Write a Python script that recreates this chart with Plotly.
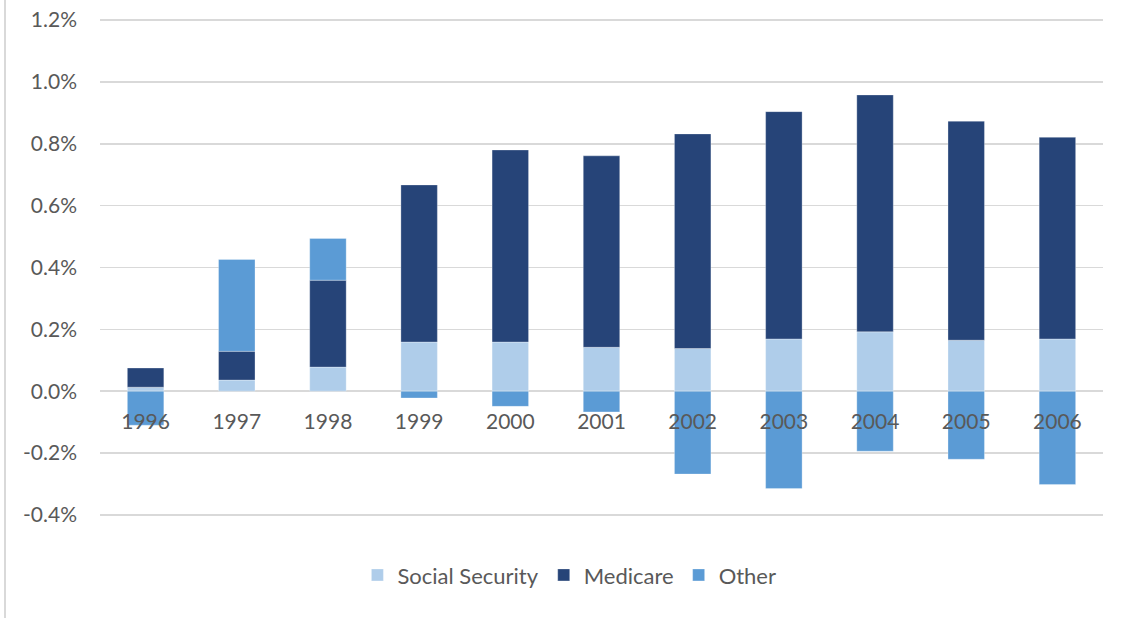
import plotly.graph_objects as go

years = ["1996", "1997", "1998", "1999", "2000", "2001", "2002", "2003", "2004", "2005", "2006"]
social_security = [0.013, 0.036, 0.078, 0.159, 0.159, 0.142, 0.138, 0.169, 0.192, 0.165, 0.169]
medicare = [0.062, 0.093, 0.281, 0.508, 0.621, 0.619, 0.694, 0.735, 0.766, 0.708, 0.652]
other = [-0.110, 0.297, 0.135, -0.022, -0.049, -0.067, -0.268, -0.315, -0.194, -0.220, -0.302]

tick_vals = [-0.4, -0.2, 0.0, 0.2, 0.4, 0.6, 0.8, 1.0, 1.2]
tick_text = ["-0.4%", "-0.2%", "0.0%", "0.2%", "0.4%", "0.6%", "0.8%", "1.0%", "1.2%"]

FONT = "Lato"
TXT = "#595959"
GRID = "#D9D9D9"

fig = go.Figure()
for name, vals, col in [
    ("Social Security", social_security, "#AFCDEA"),
    ("Medicare", medicare, "#264478"),
    ("Other", other, "#5B9BD5"),
]:
    fig.add_trace(go.Bar(
        x=years, y=vals, name=name,
        marker=dict(color=col, line=dict(color="rgba(255,255,255,0.5)", width=0.6)),
        hoverinfo="skip",
    ))

y_lo, y_hi = -0.41, 1.21

fig.update_layout(
    width=1127, height=618,
    barmode="relative",
    bargap=0.6,
    plot_bgcolor="white", paper_bgcolor="white",
    margin=dict(l=100, r=24, t=17, b=100, autoexpand=False),
    font=dict(family=FONT, color=TXT, size=21),
    showlegend=True,
    legend=dict(
        orientation="h", xanchor="center", x=0.468, yanchor="middle", y=-0.114,
        font=dict(size=22, color=TXT, family=FONT), traceorder="normal",
        itemwidth=30,
    ),
    xaxis=dict(
        type="category", anchor="free", position=(0 - y_lo) / (y_hi - y_lo),
        showline=False, showgrid=False, ticks="", automargin=False,
        ticklabelstandoff=16,
        tickfont=dict(size=21, color=TXT, family=FONT),
    ),
    yaxis=dict(
        range=[y_lo, y_hi], tickvals=tick_vals, ticktext=tick_text,
        showgrid=True, gridcolor=GRID, gridwidth=1.5, automargin=False,
        zeroline=True, zerolinecolor=GRID, zerolinewidth=2,
        showline=False, ticks="", ticklabelstandoff=22,
        tickfont=dict(size=21, color=TXT, family=FONT),
    ),
    shapes=[dict(
        type="line", xref="paper", yref="paper",
        x0=-0.0947, x1=-0.0947, y0=-0.22, y1=1.05,
        line=dict(color=GRID, width=2),
    )],
)

fig.write_html(
    "out.html",
    config={"displayModeBar": False, "staticPlot": True},
    post_script="document.body.style.margin='0';",
)
